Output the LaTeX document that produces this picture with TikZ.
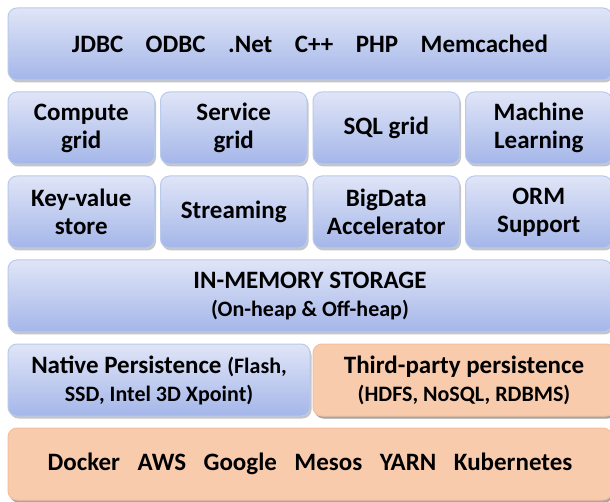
\documentclass[tikz,border=0pt]{standalone}
\usepackage{fontspec}
\setmainfont{Carlito}
\usetikzlibrary{positioning,shadows}
\definecolor{layerTop}{RGB}{224,229,247}
\definecolor{layerBot}{RGB}{164,182,233}
\definecolor{layerLine}{RGB}{186,202,235}
\definecolor{envFill}{RGB}{248,203,173}
\definecolor{envLine}{RGB}{244,192,160}
\newcommand{\wgap}{\hspace{0.9em}}
\newcommand{\ngap}{\hspace{0.7em}}
\newcommand{\bigtxt}{\fontsize{25}{28}\selectfont\bfseries}
\newcommand{\smalltxt}{\fontsize{22}{28}\selectfont\bfseries}
\tikzset{
	layer/.style={rectangle, rounded corners=9pt, draw=layerLine, line width=1pt,
		top color=layerTop, bottom color=layerBot, align=center,
		minimum height=72pt, inner sep=0pt, font=\bigtxt,
		drop shadow={opacity=0.45, shadow xshift=1.5pt, shadow yshift=-2.5pt}},
	envlayer/.style={layer, top color=envFill, bottom color=envFill, draw=envLine},
	quarter/.style={layer, minimum width=146.5pt},
	half/.style={layer, minimum width=302pt},
	whole/.style={layer, minimum width=604pt}
}
\begin{document}
\begin{tikzpicture}[x=1pt,y=-1pt]
	\useasboundingbox[fill=white] (0,0) rectangle (610,502);
	% APIs
	\node[whole] (api) at (310,44) {JDBC\wgap ODBC\wgap .Net\wgap C++\wgap PHP\wgap Memcached};
	% grids
	\node[quarter] (compute) at (81.25,128)  {Compute\\grid};
	\node[quarter] (service) at (233.75,128) {Service\\grid};
	\node[quarter] (sqlgrid) at (386.25,128) {SQL grid};
	\node[quarter] (ml)      at (538.75,128) {Machine\\Learning};
	% stores
	\node[quarter] (kv)      at (81.25,212)  {Key-value\\store};
	\node[quarter] (stream)  at (233.75,212) {Streaming};
	\node[quarter] (bigdata) at (386.25,212) {BigData\\Accelerator};
	\node[quarter] (orm)     at (538.75,212) {ORM\\Support};
	% memory
	\node[whole] (memory) at (310,296) {IN-MEMORY STORAGE\\{\smalltxt (On-heap \& Off-heap)}};
	% persistence
	\node[half] (native) at (159,380) {Native Persistence {\smalltxt (Flash,}\\{\smalltxt SSD, Intel 3D Xpoint)}};
	\node[half, envlayer] (third) at (464,380) {Third-party persistence\\{\smalltxt (HDFS, NoSQL, RDBMS)}};
	% deployment
	\node[whole, envlayer] (deploy) at (310,464) {Docker\ngap AWS\ngap Google\ngap Mesos\ngap YARN\ngap Kubernetes};
\end{tikzpicture}
\end{document}
